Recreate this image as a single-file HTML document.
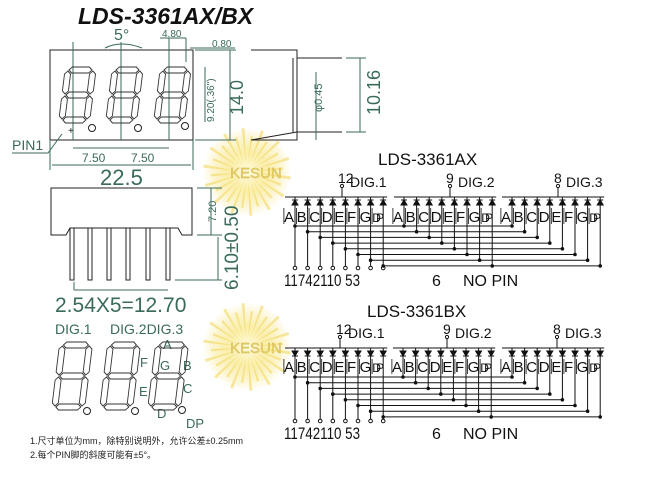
<!DOCTYPE html>
<html><head><meta charset="utf-8"><style>
html,body{margin:0;padding:0;background:#fff}
svg{display:block}
text{font-family:"Liberation Sans","Noto Sans CJK SC",sans-serif}
</style></head><body>
<svg id="s" width="654" height="477" viewBox="0 0 654 477" xmlns="http://www.w3.org/2000/svg">
<defs>
<radialGradient id="g" cx="50%" cy="50%" r="50%">
<stop offset="0" stop-color="#fffbe0"/><stop offset="0.45" stop-color="#f9e88a" stop-opacity="0.7"/><stop offset="1" stop-color="#f5d850" stop-opacity="0"/>
</radialGradient>
</defs>
<g id="burst"></g>
<text x="78" y="24" font-size="23" font-style="italic" font-weight="bold" fill="#111">LDS-3361AX/BX</text>
<g fill="none" stroke="#222" stroke-width="1">
<rect x="50" y="50" width="143" height="90"/>
<line x1="73" y1="42" x2="73" y2="140" stroke="#3a6a5a"/>
<line x1="121" y1="42" x2="121" y2="140" stroke="#3a6a5a"/>
<line x1="169" y1="38" x2="169" y2="140" stroke="#3a6a5a"/>
<line x1="186" y1="38" x2="186" y2="62" stroke="#3a6a5a"/>
<line x1="193" y1="140" x2="193" y2="170" stroke="#3a6a5a"/>
<line x1="50" y1="140" x2="50" y2="170" stroke="#3a6a5a"/>
<line x1="52" y1="165" x2="191" y2="165" stroke="#3a6a5a"/>
<line x1="73" y1="148" x2="169" y2="148" stroke="#3a6a5a"/>
<line x1="205" y1="67" x2="205" y2="122" stroke="#3a6a5a"/>
<line x1="230" y1="50" x2="230" y2="140" stroke="#3a6a5a"/>
<line x1="195" y1="50" x2="236" y2="50" stroke="#3a6a5a"/>
<line x1="195" y1="140" x2="236" y2="140" stroke="#3a6a5a"/>
<line x1="160" y1="38" x2="186" y2="38" stroke="#3a6a5a"/>
<line x1="190" y1="48" x2="235" y2="48" stroke="#3a6a5a"/>
<path d="M105 48 Q121 40 142 48" stroke="#3a6a5a"/>
<path d="M12 153 L48 153 L62 134" stroke="#3a6a5a"/>
<circle cx="92" cy="128" r="3.5"/><circle cx="138" cy="128" r="3.5"/><circle cx="185" cy="126" r="3.5"/>
</g>
<text x="68" y="134" font-size="10" fill="#222">+</text>
<text x="12" y="150" font-size="14" fill="#3a6a5a">PIN1</text>
<text x="114" y="40" font-size="16" fill="#3a6a5a">5°</text>
<text x="162" y="37" font-size="10" fill="#3a6a5a">4.80</text>
<text x="212" y="47" font-size="10" fill="#3a6a5a">0.80</text>
<text x="82" y="162" font-size="12" fill="#3a6a5a">7.50</text>
<text x="131" y="162" font-size="12" fill="#3a6a5a">7.50</text>
<text x="100" y="185" font-size="22" fill="#3a6a5a">22.5</text>
<text transform="translate(214,122) rotate(-90)" font-size="10" fill="#3a6a5a">9.20(.36")</text>
<text transform="translate(243,115) rotate(-90)" font-size="18" fill="#3a6a5a">14.0</text>
<g fill="none" stroke="#222">
<path d="M251 50 L297 50 L297 58 L342 58 M297 58 L297 132 L342 132 M297 132 L297 140 L251 140 Z"/>
<path d="M293 58 L293 132"/>
<line x1="360" y1="58" x2="360" y2="132" stroke="#3a6a5a"/>
<line x1="346" y1="58" x2="366" y2="58" stroke="#3a6a5a"/>
<line x1="346" y1="132" x2="366" y2="132" stroke="#3a6a5a"/>
<line x1="316" y1="72" x2="316" y2="140" stroke="#3a6a5a"/>
</g>
<text transform="translate(322,112) rotate(-90)" font-size="11" fill="#3a6a5a">φ0.45</text>
<text transform="translate(380,115) rotate(-90)" font-size="18" fill="#3a6a5a">10.16</text>
<g fill="none" stroke="#222">
<path d="M51 188 L192 188 L192 235 L182 235 L178 228 L70 228 L66 235 L51 235 Z"/>
<line x1="197" y1="188" x2="222" y2="188" stroke="#3a6a5a"/>
<line x1="197" y1="235" x2="222" y2="235" stroke="#3a6a5a"/>
<line x1="175" y1="280" x2="222" y2="280" stroke="#3a6a5a"/>
<line x1="211" y1="188" x2="211" y2="235" stroke="#3a6a5a"/>
<line x1="218" y1="237" x2="218" y2="280" stroke="#3a6a5a"/>
<line x1="74" y1="290" x2="74" y2="282" stroke="#3a6a5a"/>
<line x1="74" y1="290" x2="168" y2="290" stroke="#3a6a5a"/>
</g>
<g id="pins" fill="none" stroke="#222"></g>
<text transform="translate(216,222) rotate(-90)" font-size="11" fill="#3a6a5a">7.20</text>
<text transform="translate(238,290) rotate(-90)" font-size="19" fill="#3a6a5a">6.10±0.50</text>
<text x="55" y="312" font-size="21" fill="#3a6a5a">2.54X5=12.70</text>
<text x="55" y="334" font-size="14" font-family="Liberation Serif" fill="#3a6a5a">DIG.1</text>
<text x="110" y="334" font-size="14" font-family="Liberation Serif" fill="#3a6a5a">DIG.2DIG.3</text>
<g font-size="13" fill="#3a6a5a">
<text x="163" y="349">A</text><text x="140" y="367">F</text><text x="160" y="370">G</text><text x="183" y="370">B</text>
<text x="139" y="396">E</text><text x="183" y="393">C</text><text x="157" y="418">D</text><text x="186" y="428">DP</text>
</g>
<g fill="none" stroke="#222"><circle cx="87" cy="411" r="3.5"/><circle cx="135" cy="411" r="3.5"/><circle cx="182" cy="410" r="3.5"/></g>
<text x="30" y="444" font-size="9" fill="#222">1.尺寸单位为mm，除特别说明外，允许公差±0.25mm</text>
<text x="30" y="458" font-size="9" fill="#222">2.每个PIN脚的斜度可能有±5°。</text>
<g id="digs" fill="none" stroke="#333" stroke-width="0.9"></g>
<text x="378" y="165" font-size="17" fill="#111">LDS-3361AX</text>
<text x="367" y="317" font-size="17" fill="#111">LDS-3361BX</text>
<g id="sch" stroke="#111" fill="none" stroke-width="1"></g>
<g id="schT" fill="#111" font-size="14"></g>
</svg>
<script>
const NS="http://www.w3.org/2000/svg";
function el(p,t,a,txt){const e=document.createElementNS(NS,t);for(const k in a)e.setAttribute(k,a[k]);if(txt!=null)e.textContent=txt;document.getElementById(p).appendChild(e);return e;}
[[247,172],[247,347]].forEach(([cx,cy])=>{
 el("burst","circle",{cx,cy,r:44,fill:"url(#g)"});
 for(let i=0;i<28;i++){const a=i*Math.PI/14+0.1,b=a+0.07,r=(i%2?36:44);
  el("burst","path",{d:`M${cx+10*Math.cos(a)} ${cy+10*Math.sin(a)} L${cx+r*Math.cos(a)} ${cy+r*Math.sin(a)} L${cx+r*Math.cos(b)} ${cy+r*Math.sin(b)} Z`,fill:"#f1d656",opacity:0.55});}
 el("burst","text",{x:cx-17,y:cy+6,"font-size":15,fill:"#ecd878",stroke:"#cdb040","stroke-width":0.4},"KESUN");
});
[72,90,109,128,148,168].forEach(x=>{el("pins","rect",{x:x-2,y:228,width:4,height:52});});
function digit(x,y,w,h){
 const t=6,hh=h/2,g=1;
 const hs=(x0,y0,L)=>`M${x0+g} ${y0} L${x0+t/2+g} ${y0-t/2} L${x0+L-t/2-g} ${y0-t/2} L${x0+L-g} ${y0} L${x0+L-t/2-g} ${y0+t/2} L${x0+t/2+g} ${y0+t/2} Z`;
 const vs=(x0,y0,L)=>`M${x0} ${y0+g} L${x0+t/2} ${y0+t/2+g} L${x0+t/2} ${y0+L-t/2-g} L${x0} ${y0+L-g} L${x0-t/2} ${y0+L-t/2-g} L${x0-t/2} ${y0+t/2+g} Z`;
 const grp=el("digs","g",{transform:`translate(${x},${y}) skewX(-7) translate(${h*0.12},0)`});
 [hs(0,0,w),hs(0,hh,w),hs(0,h,w),vs(0,0,hh),vs(w,0,hh),vs(0,hh,hh),vs(w,hh,hh)].forEach(d=>{const p=document.createElementNS(NS,"path");p.setAttribute("d",d);grp.appendChild(p);});
}
[62,109,157].forEach(x=>digit(x,70,25,50));
[55,103,151].forEach(x=>digit(x,345,27,62));
function sch(busY,letY,hy0,pinY,labY,gx,pinX,nums,anode){
 const sp=12.6;
 gx.forEach((g,gi)=>{
  el("sch","line",{x1:g-10,y1:busY,x2:g+sp*7+4,y2:busY});
  el("sch","line",{x1:pinX[gi],y1:busY,x2:pinX[gi],y2:busY-9});
  el("sch","circle",{cx:pinX[gi],cy:busY-11,r:1.6});
  el("schT","text",{x:pinX[gi]-4,y:busY-14,"font-size":14},nums[gi]);
  el("schT","text",{x:pinX[gi]+8,y:busY-10,"font-size":14,"font-family":"Liberation Serif"},"DIG."+(gi+1));
  "ABCDEFGD".split("").forEach((c,i)=>{
   const x=g+sp*i;
   el("sch","line",{x1:x,y1:busY,x2:x,y2:letY+4});
   const ty=busY+3;
   el("sch","path",{d:anode?`M${x-3} ${ty} L${x+3} ${ty} L${x} ${ty+5} Z M${x-3} ${ty+5} L${x+3} ${ty+5}`:`M${x-3} ${ty+5} L${x+3} ${ty+5} L${x} ${ty} Z M${x-3} ${ty} L${x+3} ${ty}`,fill:"#111"});
   el("sch","line",{x1:x-sp+1.5,y1:busY+11,x2:x-sp+1.5,y2:letY+2,"stroke-width":0.8});
   const t=el("schT","text",{x:x-11,y:letY},i==7?"DP":c);t.setAttribute("font-size",i==7?12:15);
   if(i==7)t.setAttribute("textLength",12);
   const hy=hy0+i*5.7;
   if(gi==0){
    el("sch","line",{x1:x,y1:letY+4,x2:x,y2:pinY-2});
    el("sch","circle",{cx:x,cy:pinY,r:1.8});
    el("sch","line",{x1:x,y1:hy,x2:gx[2]+sp*i,y2:hy});
    el("sch","circle",{cx:x,cy:hy,r:1.3,fill:"#111"});
   }else{
    el("sch","line",{x1:x,y1:letY+4,x2:x,y2:hy});
    el("sch","circle",{cx:x,cy:hy,r:1.3,fill:"#111"});
   }
  });
 });
 el("schT","text",{x:284,y:labY,"font-size":17,textLength:76,lengthAdjust:"spacingAndGlyphs"},"11742110 53");
 el("schT","text",{x:432,y:labY,"font-size":16},"6");
 el("schT","text",{x:463,y:labY,"font-size":16},"NO  PIN");
}
sch(197,222,226,268,286,[295,404,512],[342,450,558],["12","9","8"],false);
sch(348,372,377,421,439,[295,403,512],[340,447,557],["12","9","8"],true);
</script>
</body></html>
